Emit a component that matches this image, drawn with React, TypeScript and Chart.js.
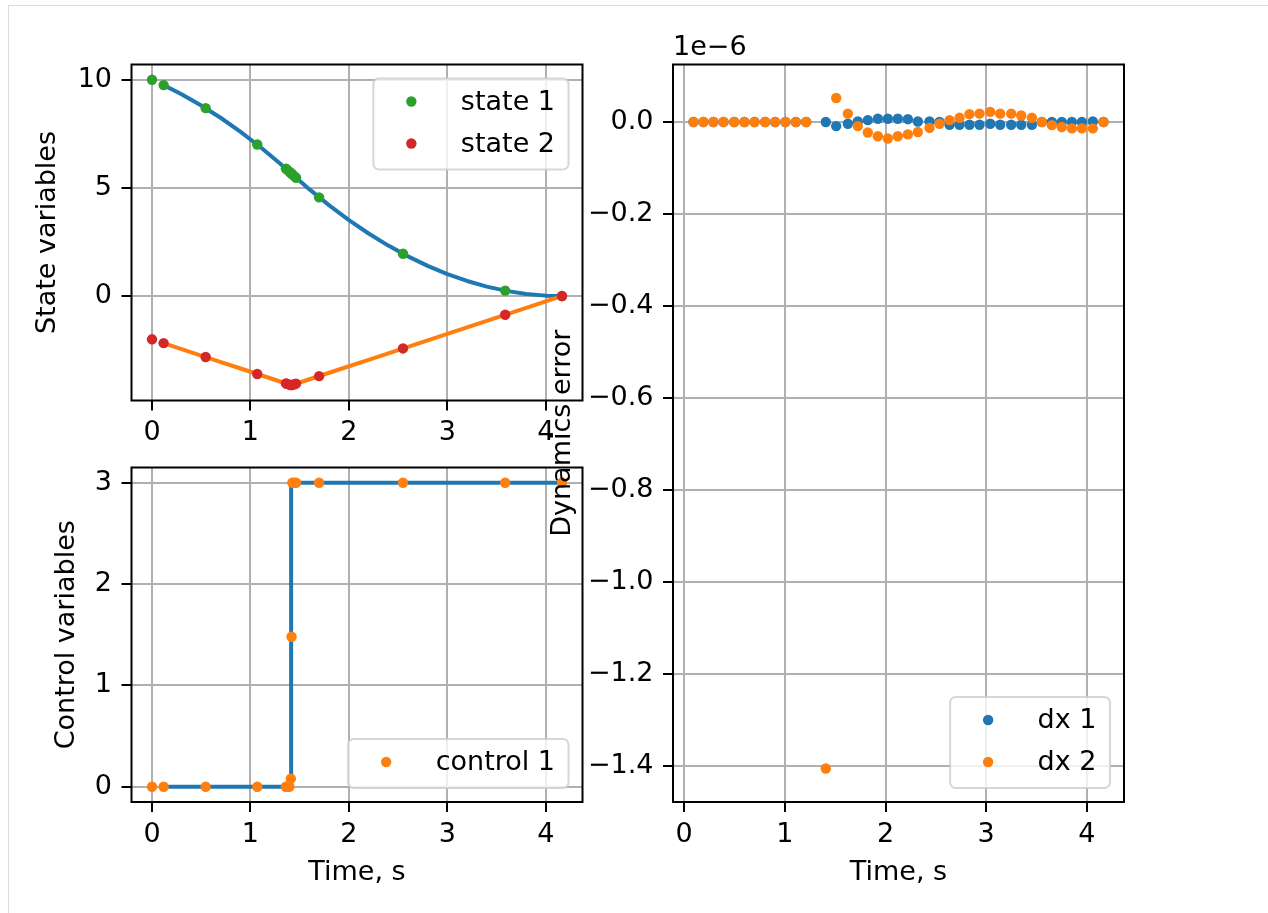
import React, { useEffect, useRef } from "react";
import { Chart, registerables } from "chart.js";

Chart.register(...registerables);

const PAGE_W = 1268;
const PAGE_H = 913;
const FONT_FAMILY = '"DejaVu Sans", "Liberation Sans", sans-serif';
const FONT_SIZE = 27;

const BLUE = "#1f77b4";
const ORANGE = "#ff7f0e";
const GREEN = "#2ca02c";
const RED = "#d62728";

// ---------------- data ----------------
// collocation nodes
const nodeTime = [0, 0.118, 0.545, 1.069, 1.36, 1.369, 1.395, 1.41, 1.417, 1.425, 1.445, 1.463, 1.697, 2.549, 3.587, 4.164];
const state1 = [10, 9.754, 8.687, 7.005, 5.893, 5.856, 5.751, 5.689, 5.66, 5.627, 5.545, 5.472, 4.565, 1.958, 0.252, 0];
const state2 = [-2, -2.177, -2.818, -3.604, -4.04, -4.054, -4.093, -4.115, -4.12, -4.108, -4.078, -4.051, -3.7, -2.422, -0.864, 0];
const control1 = [0, 0, 0, 0, 0, 0, 0, 0.08, 1.48, 3, 3, 3, 3, 3, 3, 3];

// interpolated solution curves
const curveTime = [0.118, 0.3, 0.5, 0.7, 0.9, 1.1, 1.3, 1.415, 1.6, 1.8, 2.0, 2.2, 2.4, 2.6, 2.8, 3.0, 3.2, 3.4, 3.6, 3.8, 4.0, 4.164];
const curveState1 = [9.754, 9.333, 8.813, 8.233, 7.593, 6.893, 6.133, 5.668, 4.931, 4.191, 3.512, 2.893, 2.334, 1.835, 1.395, 1.016, 0.697, 0.438, 0.239, 0.099, 0.02, 0];
const curveState2 = [-2.177, -2.45, -2.75, -3.05, -3.35, -3.65, -3.95, -4.1225, -3.846, -3.546, -3.246, -2.946, -2.646, -2.346, -2.046, -1.746, -1.446, -1.146, -0.846, -0.546, -0.246, 0];
const controlLineTime = [0.118, 1.413, 1.413, 4.164];
const controlLine = [0, 0, 3, 3];

// dynamics error check points (values in units of 1e-6)
const errTime = [0.093, 0.192, 0.291, 0.391, 0.497, 0.599, 0.699, 0.805, 0.904, 1.006, 1.109, 1.212, 1.407, 1.51, 1.626, 1.725, 1.824, 1.924, 2.023, 2.122, 2.222, 2.321, 2.437, 2.536, 2.636, 2.735, 2.834, 2.934, 3.04, 3.139, 3.248, 3.348, 3.454, 3.553, 3.652, 3.751, 3.851, 3.95, 4.059, 4.165];
const dx1 = [0, 0, 0, 0, 0, 0, 0, 0, 0, 0, 0, 0, 0, -0.009, -0.004, 0.001, 0.004, 0.007, 0.007, 0.007, 0.006, 0.001, 0.001, 0, -0.006, -0.006, -0.006, -0.006, -0.004, -0.006, -0.006, -0.006, -0.006, 0, 0, 0, 0, 0, 0.001, 0];
const dx2 = [0, 0, 0, 0, 0, 0, 0, 0, 0, 0, 0, 0, -1.405, 0.052, 0.018, -0.009, -0.023, -0.031, -0.036, -0.031, -0.027, -0.022, -0.013, -0.004, 0.004, 0.009, 0.017, 0.018, 0.022, 0.018, 0.018, 0.014, 0.009, 0, -0.007, -0.011, -0.014, -0.014, -0.014, 0];

const timeTicks = [0, 1, 2, 3, 4];
const stateTicks = [0, 5, 10];
const controlTicks = [0, 1, 2, 3];
const errTicks = [0, -0.2, -0.4, -0.6, -0.8, -1.0, -1.2, -1.4];
const errOffsetLabel = "1e\u22126";

// ---------------- helpers ----------------
type Box = { left: number; top: number; right: number; bottom: number };
type LegendItem = { label: string; color: string };

const pts = (xs: number[], ys: number[]) => xs.map((x, i) => ({ x, y: ys[i] }));

function limits(arrs: number[][]): [number, number] {
  const all = arrs.flat();
  const lo = Math.min(...all);
  const hi = Math.max(...all);
  const m = (hi - lo) * 0.05;
  return [lo - m, hi + m];
}

const fmt = (d: number) => (v: number) => {
  const s = Number(v).toFixed(d);
  return s.startsWith("-") ? "\u2212" + s.slice(1) : s;
};

const POINT_R = 5.2;

const scatterSet = (label: string, xs: number[], ys: number[], color: string, order: number) => ({
  label,
  data: pts(xs, ys),
  showLine: false,
  pointRadius: POINT_R,
  pointHoverRadius: POINT_R,
  pointBorderWidth: 0,
  backgroundColor: color,
  borderColor: color,
  order,
});

const lineSet = (xs: number[], ys: number[], color: string, order: number) => ({
  label: "",
  data: pts(xs, ys),
  showLine: true,
  borderColor: color,
  backgroundColor: color,
  borderWidth: 4,
  borderJoinStyle: "round",
  borderCapStyle: "square",
  pointRadius: 0,
  pointHoverRadius: 0,
  tension: 0,
  fill: false,
  order,
});

function axis(
  range: [number, number],
  ticks: number[],
  format: (v: number) => string,
  title: string | null,
  isX: boolean,
  fitSize: number,
  pad: number
) {
  return {
    type: "linear",
    position: isX ? "bottom" : "left",
    min: range[0],
    max: range[1],
    afterBuildTicks: (s: any) => {
      s.ticks = ticks.map((v) => ({ value: v }));
    },
    afterFit: (s: any) => {
      if (isX) s.height = fitSize;
      else s.width = fitSize;
    },
    grid: {
      color: "#b0b0b0",
      lineWidth: 2,
      drawTicks: true,
      tickColor: "#000",
      tickLength: 10,
      tickWidth: 2,
    },
    border: { display: false },
    ticks: {
      autoSkip: false,
      maxRotation: 0,
      minRotation: 0,
      padding: pad,
      color: "#000",
      font: { family: FONT_FAMILY, size: FONT_SIZE },
      callback: (v: number) => format(v),
    },
    title: title
      ? {
          display: true,
          text: title,
          color: "#000",
          font: { family: FONT_FAMILY, size: FONT_SIZE },
          padding: 0,
        }
      : { display: false },
  };
}

function mplPlugin(legendItems: LegendItem[], loc: "upper right" | "lower right", offsetText?: string) {
  return {
    id: "mplDecor",
    afterDatasetsDraw(chart: any) {
      const { ctx, chartArea: a } = chart;
      ctx.save();
      // axes frame (all four spines)
      ctx.strokeStyle = "#000";
      ctx.lineWidth = 2;
      ctx.strokeRect(a.left, a.top, a.right - a.left, a.bottom - a.top);

      // legend
      ctx.font = `${FONT_SIZE}px ${FONT_FAMILY}`;
      const tw = Math.max(...legendItems.map((it) => ctx.measureText(it.label).width));
      const bw = 87.5 + tw + 13.5;
      const n = legendItems.length;
      const bh = 23 + 42 * (n - 1) + 26;
      const x0 = a.right - 14 - bw;
      const y0 = loc === "upper right" ? a.top + 14 : a.bottom - 14 - bh;
      ctx.beginPath();
      ctx.roundRect(x0, y0, bw, bh, 5.5);
      ctx.fillStyle = "rgba(255,255,255,0.8)";
      ctx.fill();
      ctx.strokeStyle = "rgba(204,204,204,0.8)";
      ctx.lineWidth = 2;
      ctx.stroke();
      legendItems.forEach((it, i) => {
        const cy = y0 + 23 + 42 * i;
        ctx.beginPath();
        ctx.arc(x0 + 38, cy, POINT_R, 0, Math.PI * 2);
        ctx.fillStyle = it.color;
        ctx.fill();
        ctx.fillStyle = "#000";
        ctx.textAlign = "left";
        ctx.textBaseline = "middle";
        ctx.fillText(it.label, x0 + 87.5, cy + 1);
      });

      if (offsetText) {
        ctx.fillStyle = "#000";
        ctx.textAlign = "left";
        ctx.textBaseline = "alphabetic";
        ctx.fillText(offsetText, a.left, a.top - 9.5);
      }
      ctx.restore();
    },
  };
}

type PanelCfg = {
  box: Box;
  yAxisWidth: number;
  xAxisHeight: number;
  xRange: [number, number];
  yRange: [number, number];
  xTicks: number[];
  yTicks: number[];
  yFormat: (v: number) => string;
  xTitle: string | null;
  yTitle: string;
  datasets: any[];
  legendItems: LegendItem[];
  legendLoc: "upper right" | "lower right";
  offsetText?: string;
};

function buildChart(canvas: HTMLCanvasElement, p: PanelCfg) {
  return new Chart(canvas, {
    type: "scatter",
    data: { datasets: p.datasets },
    plugins: [mplPlugin(p.legendItems, p.legendLoc, p.offsetText)],
    options: {
      responsive: false,
      animation: false,
      devicePixelRatio: 1,
      events: [],
      layout: {
        padding: {
          left: p.box.left - p.yAxisWidth,
          top: p.box.top,
          right: PAGE_W - p.box.right,
          bottom: PAGE_H - p.box.bottom - p.xAxisHeight,
        },
      },
      plugins: {
        legend: { display: false },
        tooltip: { enabled: false },
        title: { display: false },
      },
      scales: {
        x: axis(p.xRange, p.xTicks, fmt(0), p.xTitle, true, p.xAxisHeight, 6.5),
        y: axis(p.yRange, p.yTicks, p.yFormat, p.yTitle, false, p.yAxisWidth, 9.5),
      },
    } as any,
  } as any);
}

const leftXRange = limits([nodeTime, curveTime, controlLineTime]);

const panels: PanelCfg[] = [
  {
    box: { left: 131.5, top: 64.5, right: 582.5, bottom: 400.5 },
    yAxisWidth: 100,
    xAxisHeight: 60,
    xRange: leftXRange,
    yRange: limits([state1, state2, curveState1, curveState2]),
    xTicks: timeTicks,
    yTicks: stateTicks,
    yFormat: fmt(0),
    xTitle: null,
    yTitle: "State variables",
    datasets: [
      scatterSet("state 2", nodeTime, state2, RED, 0),
      scatterSet("state 1", nodeTime, state1, GREEN, 1),
      lineSet(curveTime, curveState2, ORANGE, 2),
      lineSet(curveTime, curveState1, BLUE, 3),
    ],
    legendItems: [
      { label: "state 1", color: GREEN },
      { label: "state 2", color: RED },
    ],
    legendLoc: "upper right",
  },
  {
    box: { left: 131.5, top: 467.5, right: 582.5, bottom: 802 },
    yAxisWidth: 80.7,
    xAxisHeight: 86.7,
    xRange: leftXRange,
    yRange: limits([control1, controlLine]),
    xTicks: timeTicks,
    yTicks: controlTicks,
    yFormat: fmt(0),
    xTitle: "Time, s",
    yTitle: "Control variables",
    datasets: [
      scatterSet("control 1", nodeTime, control1, ORANGE, 0),
      lineSet(controlLineTime, controlLine, BLUE, 1),
    ],
    legendItems: [{ label: "control 1", color: ORANGE }],
    legendLoc: "lower right",
  },
  {
    box: { left: 673, top: 64.5, right: 1124, bottom: 802 },
    yAxisWidth: 126.6,
    xAxisHeight: 86.7,
    xRange: limits([errTime]),
    yRange: limits([dx1, dx2]),
    xTicks: timeTicks,
    yTicks: errTicks,
    yFormat: fmt(1),
    xTitle: "Time, s",
    yTitle: "Dynamics error",
    datasets: [
      scatterSet("dx 2", errTime, dx2, ORANGE, 0),
      scatterSet("dx 1", errTime, dx1, BLUE, 1),
    ],
    legendItems: [
      { label: "dx 1", color: BLUE },
      { label: "dx 2", color: ORANGE },
    ],
    legendLoc: "lower right",
    offsetText: errOffsetLabel,
  },
];

function PanelCanvas({ cfg }: { cfg: PanelCfg }) {
  const ref = useRef<HTMLCanvasElement>(null);
  useEffect(() => {
    if (!ref.current) return;
    const ch = buildChart(ref.current, cfg);
    return () => ch.destroy();
  }, [cfg]);
  return (
    <canvas
      ref={ref}
      width={PAGE_W}
      height={PAGE_H}
      style={{ position: "absolute", left: 0, top: 0, width: PAGE_W, height: PAGE_H }}
    />
  );
}

export default function App() {
  return (
    <div
      style={{
        position: "absolute",
        left: 0,
        top: 0,
        width: PAGE_W,
        height: PAGE_H,
        background: "#fff",
        overflow: "hidden",
      }}
    >
      <div
        style={{
          position: "absolute",
          left: 8,
          top: 5,
          width: PAGE_W - 8,
          height: PAGE_H - 5,
          borderTop: "1px solid #dcdcdc",
          borderLeft: "1px solid #dcdcdc",
          boxSizing: "border-box",
        }}
      />
      {panels.map((p, i) => (
        <PanelCanvas key={i} cfg={p} />
      ))}
    </div>
  );
}
